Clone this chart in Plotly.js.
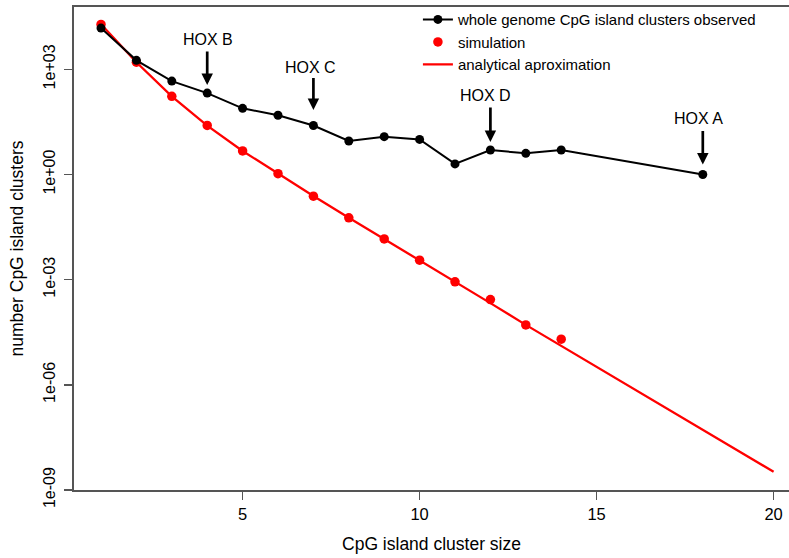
<!DOCTYPE html>
<html>
<head>
<meta charset="utf-8">
<script src="https://cdn.plot.ly/plotly-3.0.1.min.js"></script>
<style>html,body{margin:0;padding:0;background:#fff}#chart{width:789px;height:558px}</style>
</head>
<body>
<div id="chart"></div>
<script>
// Observed whole-genome CpG island clusters
var observedSizes = [1, 2, 3, 4, 5, 6, 7, 8, 9, 10, 11, 12, 13, 14, 18];
var observedCounts = [15000, 1800, 460, 210, 77, 49, 25, 9, 12, 10, 2, 5, 4, 5, 1];

// Simulation
var simulationSizes = [1, 2, 3, 4, 5, 6, 7, 8, 9, 10, 11, 12, 13, 14];
var simulationCounts = [19000, 1600, 170, 25, 4.7, 1.05, 0.24, 0.058, 0.0145, 0.0036, 8.7e-4, 2.7e-4, 5.1e-5, 2.0e-5];

// Analytical approximation
var analyticalSizes = [1, 2, 3, 4, 5, 6, 7, 8, 9, 10, 11, 12, 13, 14, 15, 16, 17, 18, 19, 20];
var analyticalCounts = [19200, 1585, 170, 24.6, 4.68, 1.05, 0.243, 0.0585, 0.01445, 3.63e-3, 8.7e-4, 2.14e-4, 5.13e-5, 1.29e-5, 3.24e-6, 8.13e-7, 2.04e-7, 5.13e-8, 1.29e-8, 3.31e-9];

// HOX cluster labels
var hoxLabels = ["HOX B", "HOX C", "HOX D", "HOX A"];
var hoxSizes = [4, 7, 12, 18];

// Tick labels
var yTickVals = [1e-9, 1e-6, 1e-3, 1, 1e3];
var yTickText = ["1e-09", "1e-06", "1e-03", "1e+00", "1e+03"];
var xTickVals = [5, 10, 15, 20];
var xTickText = ["5", "10", "15", "20"];

var FONT = "Liberation Sans, Arial, Helvetica, sans-serif";

var traces = [
  {
    x: analyticalSizes, y: analyticalCounts, type: "scatter", mode: "lines",
    name: "analytical aproximation", legendrank: 3,
    line: {color: "#ff0000", width: 2.3}
  },
  {
    x: simulationSizes, y: simulationCounts, type: "scatter", mode: "markers",
    name: "simulation", legendrank: 2,
    marker: {color: "#ff0000", size: 9.5}
  },
  {
    x: observedSizes, y: observedCounts, type: "scatter", mode: "lines+markers",
    name: "whole genome CpG island clusters observed", legendrank: 1,
    line: {color: "#000000", width: 2},
    marker: {color: "#000000", size: 9}
  }
];

// label placement styles (pixels)
var textStyle = [
  {xs: 1, ys: 54},
  {xs: -3, ys: 58},
  {xs: -5, ys: 54},
  {xs: -4, ys: 56}
];
var arrowStyle = [
  {ay: -43, so: 8},
  {ay: -49, so: 15.5},
  {ay: -44, so: 8},
  {ay: -45, so: 10}
];

var annotations = [];
hoxLabels.forEach(function (lab, i) {
  var idx = observedSizes.indexOf(hoxSizes[i]);
  var ly = Math.log10(observedCounts[idx]);
  annotations.push({
    x: hoxSizes[i], y: ly, xref: "x", yref: "y",
    text: lab, showarrow: false,
    xshift: textStyle[i].xs, yshift: textStyle[i].ys,
    font: {family: FONT, size: 16, color: "#000"}
  });
  annotations.push({
    x: hoxSizes[i], y: ly, xref: "x", yref: "y",
    text: "", showarrow: true, ax: 0, ay: arrowStyle[i].ay,
    standoff: arrowStyle[i].so,
    arrowhead: 2, arrowsize: 0.85, arrowwidth: 2.7, arrowcolor: "#000"
  });
});

var layout = {
  width: 789, height: 558,
  margin: {l: 74, r: 0, t: 7, b: 68},
  paper_bgcolor: "#fff", plot_bgcolor: "#fff",
  font: {family: FONT, size: 15.5, color: "#000"},
  showlegend: true,
  legend: {
    x: 0.481, y: 1.008, xanchor: "left", yanchor: "top",
    bgcolor: "rgba(0,0,0,0)", borderwidth: 0,
    font: {family: FONT, size: 15, color: "#000"},
    tracegroupgap: 0
  },
  xaxis: {
    type: "linear", range: [0.237, 20.435],
    tickvals: xTickVals, ticktext: xTickText,
    ticks: "outside", ticklen: 8, tickwidth: 1.5, tickcolor: "#555",
    showline: true, linecolor: "#555", linewidth: 2, mirror: true,
    showgrid: false, zeroline: false,
    tickfont: {family: FONT, size: 16.5, color: "#000"},
    title: {text: "CpG island cluster size", font: {family: FONT, size: 17.5, color: "#000"}, standoff: 16}
  },
  yaxis: {
    type: "log", range: [-9, 4.777],
    tickvals: yTickVals, ticktext: yTickText, tickangle: -90,
    ticks: "outside", ticklen: 8, tickwidth: 1.5, tickcolor: "#555",
    showline: true, linecolor: "#555", linewidth: 2, mirror: false,
    showgrid: false, zeroline: false,
    ticklabelstandoff: 3,
    tickfont: {family: FONT, size: 16, color: "#000"},
    title: {text: "number CpG island clusters", font: {family: FONT, size: 17.5, color: "#000"}, standoff: 12}
  },
  annotations: annotations
};

Plotly.newPlot("chart", traces, layout, {displayModeBar: false, staticPlot: true});
</script>
</body>
</html>
